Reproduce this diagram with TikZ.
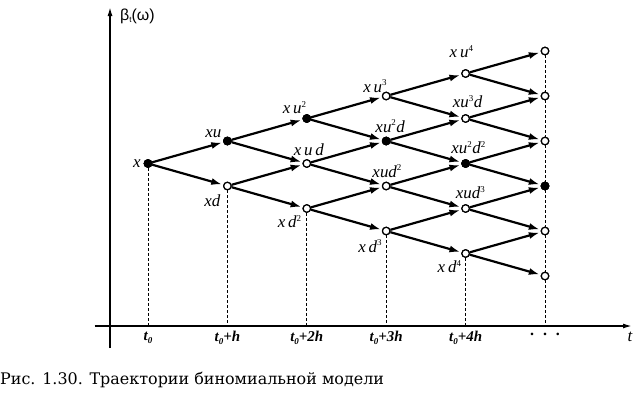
\documentclass[tikz,border=0pt]{standalone}
\usepackage{fontspec}
\setmainfont{Liberation Serif}
\newfontfamily\capfont{DejaVu Serif}
\newfontfamily\axfont{Liberation Sans}
\usetikzlibrary{arrows.meta}
\newcommand{\sps}[1]{\textsuperscript{\upshape\fontsize{9}{9}\selectfont #1}}
\newcommand{\tsub}{\textit{t}\raisebox{-2.5pt}{\fontsize{9}{9}\selectfont\textit{0}}}
\begin{document}
\begin{tikzpicture}[x=1bp,y=-1bp,
  opennode/.style={circle,draw,line width=1.2bp,fill=white,inner sep=0pt,minimum size=7.5bp},
  fullnode/.style={circle,draw,line width=1.2bp,fill=black,inner sep=0pt,minimum size=7.5bp},
  edge/.style={line width=2.2bp,-{Latex[length=11bp,width=7bp]},shorten >=1bp},
  dashline/.style={line width=0.9bp,dash pattern=on 3bp off 2bp},
  axis/.style={line width=1.5bp},
  lab/.style={font=\fontsize{17}{17}\selectfont\itshape,inner sep=0pt,anchor=base},
  tick/.style={font=\fontsize{15}{15}\selectfont\bfseries\itshape,inner sep=0pt}]
\useasboundingbox (0,0) rectangle (639,397);
% axes
\node[inner sep=0pt] (ax0) at (94,326) {};
\coordinate (axE) at (632,326);
\coordinate (vyB) at (110,348);
\coordinate (vyT) at (110,7);
\draw[axis,-{Latex[length=9bp,width=5bp]}] (ax0) -- (axE);
\draw[axis,-{Latex[length=9bp,width=5bp]}] (vyB) -- (vyT);
\node[font=\axfont\fontsize{16}{16}\selectfont,anchor=west,inner sep=0pt] (beta) at (120,16) {β\raisebox{-2pt}{\fontsize{8}{8}\selectfont t}(ω)};
\node[font=\fontsize{17}{17}\selectfont\itshape,inner sep=0pt] (tl) at (630,337) {t};
% nodes
\foreach \i in {0,...,5}{
  \foreach \j in {0,...,\i}{
    \pgfmathsetmacro{\xx}{148+79.4*\i}
    \pgfmathsetmacro{\yy}{163.5+(2*\j-\i)*22.5}
    \node[opennode] (n-\i-\j) at (\xx,\yy) {};
  }
}
% ticks and dashed verticals
\foreach \i/\t in {0/{\tsub},1/{\tsub+\textit{h}},2/{\tsub+2\textit{h}},3/{\tsub+3\textit{h}},4/{\tsub+4\textit{h}}}{
  \coordinate (b-\i) at (n-\i-\i |- ax0);
  \draw[dashline] (n-\i-\i) -- (b-\i);
  \node[tick] (tk-\i) at ([yshift=-12bp]b-\i) {\t};
}
\coordinate (b-5) at (n-5-0 |- ax0);
\draw[dashline] (n-5-0) -- (b-5);
\node[font=\fontsize{16}{16}\selectfont\bfseries,inner sep=0pt] (dots) at ([yshift=-8bp]b-5) {.\hspace{9bp}.\hspace{9bp}.};
% edges
\foreach \i in {0,...,4}{
  \pgfmathtruncatemacro{\ni}{\i+1}
  \foreach \j in {0,...,\i}{
    \pgfmathtruncatemacro{\nj}{\j+1}
    \draw[edge] (n-\i-\j) -- (n-\ni-\j);
    \draw[edge] (n-\i-\j) -- (n-\ni-\nj);
  }
}
% redraw nodes above edges
\foreach \i in {0,...,5}{
  \foreach \j in {0,...,\i}{
    \node[opennode] at (n-\i-\j) {};
  }
}
\foreach \i/\j in {0/0,1/0,2/0,3/1,4/2,5/3}{
  \node[fullnode] at (n-\i-\j) {};
}
% labels
\node[lab] (l00) at ([shift={(-11,4)}]n-0-0) {x};
\node[lab] (l10) at ([shift={(-14,-4)}]n-1-0) {xu};
\node[lab] (l11) at ([shift={(-15,20)}]n-1-1) {xd};
\node[lab] (l20) at ([shift={(-12,-5)}]n-2-0) {x\,u\sps{2}};
\node[lab] (l21) at ([shift={(2,-8)}]n-2-1) {x\,u\,d};
\node[lab] (l22) at ([shift={(-17,19)}]n-2-2) {x\,d\sps{2}};
\node[lab] (l30) at ([shift={(-11,-4)}]n-3-0) {x\,u\sps{3}};
\node[lab] (l31) at ([shift={(4,-9)}]n-3-1) {xu\sps{2}d};
\node[lab] (l32) at ([shift={(1,-9)}]n-3-2) {xud\sps{2}};
\node[lab] (l33) at ([shift={(-16,21)}]n-3-3) {x\,d\sps{3}};
\node[lab] (l40) at ([shift={(-4,-16)}]n-4-0) {x\,u\sps{4}};
\node[lab] (l41) at ([shift={(2,-11)}]n-4-1) {xu\sps{3}d};
\node[lab] (l42) at ([shift={(3,-10)}]n-4-2) {xu\sps{2}d\sps{2}};
\node[lab] (l43) at ([shift={(5,-10)}]n-4-3) {xud\sps{3}};
\node[lab] (l44) at ([shift={(-16,19)}]n-4-4) {x\,d\sps{4}};
% caption
\node[font=\capfont\fontsize{16}{16}\selectfont,anchor=west,inner sep=0pt] (cap) at (0,380) {Рис. 1.30. Траектории биномиальной модели};
\end{tikzpicture}
\end{document}
